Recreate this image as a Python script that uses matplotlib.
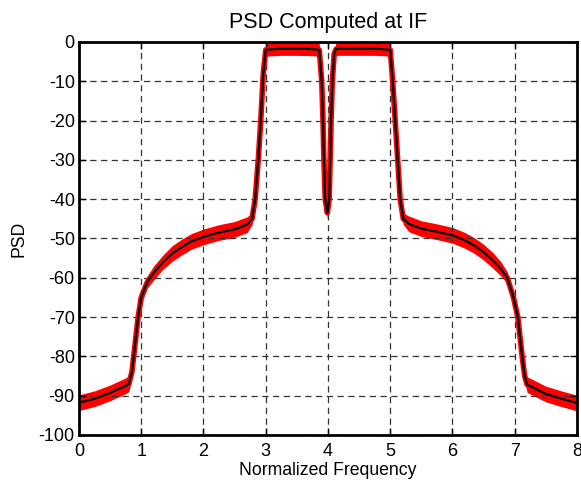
import numpy as np
import matplotlib
matplotlib.use("Agg")
from matplotlib import pyplot as plt

plt.rcParams['font.family'] = ['Liberation Sans', 'DejaVu Sans']
plt.rcParams['axes.unicode_minus'] = False

# normalized frequency and PSD (dB)
freq = [0, 0.25, 0.5, 0.75, 0.8, 0.85, 0.9, 0.95, 1.0, 1.1, 1.2, 1.35, 1.5, 1.65,
        1.8, 2.0, 2.25, 2.5, 2.7, 2.78, 2.83, 2.88, 2.92, 2.96, 3.0, 3.25, 3.5,
        3.75, 3.86, 3.9, 3.92, 3.935, 3.955, 3.99, 4.02, 4.035, 4.05, 4.07, 4.1,
        4.13, 4.25, 4.5, 4.75, 5.0, 5.04, 5.08, 5.12, 5.16, 5.21, 5.3, 5.5, 5.75,
        6.0, 6.2, 6.35, 6.5, 6.65, 6.78, 6.88, 6.98, 7.05, 7.12, 7.16, 7.2, 7.5,
        7.75, 8.0]
psd_mean = [-91.8, -90.8, -89.3, -87.5, -87.0, -84, -77, -70, -65, -61, -58.8, -56,
            -53.8, -52.2, -50.8, -49.6, -48.5, -47.7, -46.5, -45, -40, -30, -20,
            -8, -2, -1.7, -1.7, -1.8, -2, -10, -20, -30, -40, -43.5, -40, -30,
            -20, -10, -3, -1.8, -1.7, -1.7, -1.7, -2, -10, -20, -30, -40, -45,
            -46.3, -47.5, -48.3, -49.2, -50.5, -51.8, -53.5, -55.6, -57.8, -60,
            -65, -70, -80, -85, -87.2, -89.6, -90.8, -91.9]
# spread of the raw (red) estimate around the mean, dB
spread = [2.0, 2.0, 2.0, 2.0, 2.0, 2.0, 1.5, 1.5, 1.5, 1.5, 1.8, 1.8, 2.0, 2.0,
          2.0, 2.0, 2.0, 2.0, 2.0, 1.5, 1.0, 1.0, 1.0, 1.0, 1.6, 1.7, 1.7, 1.7,
          1.6, 1.0, 1.0, 1.0, 1.0, 1.5, 1.0, 1.0, 1.0, 1.0, 1.0, 1.6, 1.7, 1.7,
          1.7, 1.6, 1.0, 1.0, 1.0, 1.0, 1.5, 2.0, 2.0, 2.0, 2.0, 2.0, 2.0, 2.0,
          2.0, 1.8, 1.5, 1.5, 1.5, 1.5, 1.5, 2.0, 2.0, 2.0, 2.0]

xticks = list(range(0, 9))
yticks = list(range(-100, 1, 10))

f = np.array(freq)
m = np.array(psd_mean)
s = np.array(spread)

fig = plt.figure(figsize=(5.81, 4.80), dpi=100)
ax = fig.add_axes([0.136, 0.094, 0.857, 0.8185])

ax.fill_between(f, m - s, m + s, color='red', lw=0)
ax.plot(f, m, color='red', lw=4)
ax.plot(f, m, color='black', lw=1.6)

ax.set_xlim(0, 8)
ax.set_ylim(-100, 0)
ax.set_xticks(xticks)
ax.set_yticks(yticks)
ax.tick_params(direction='in', top=True, right=True, length=5, width=1,
               labelsize=13, pad=3)
ax.tick_params(axis='x', pad=6)
ax.grid(True, color='#333333', linestyle=(0, (5, 3.6)), lw=0.9)
for sp in ax.spines.values():
    sp.set_linewidth(2)

ax.set_title('PSD Computed at IF', fontsize=15.5, pad=10)
ax.set_xlabel('Normalized Frequency', fontsize=12.7, labelpad=1)
ax.set_ylabel('PSD', fontsize=12.7, labelpad=8)

fig.savefig('out.png', dpi=100)
